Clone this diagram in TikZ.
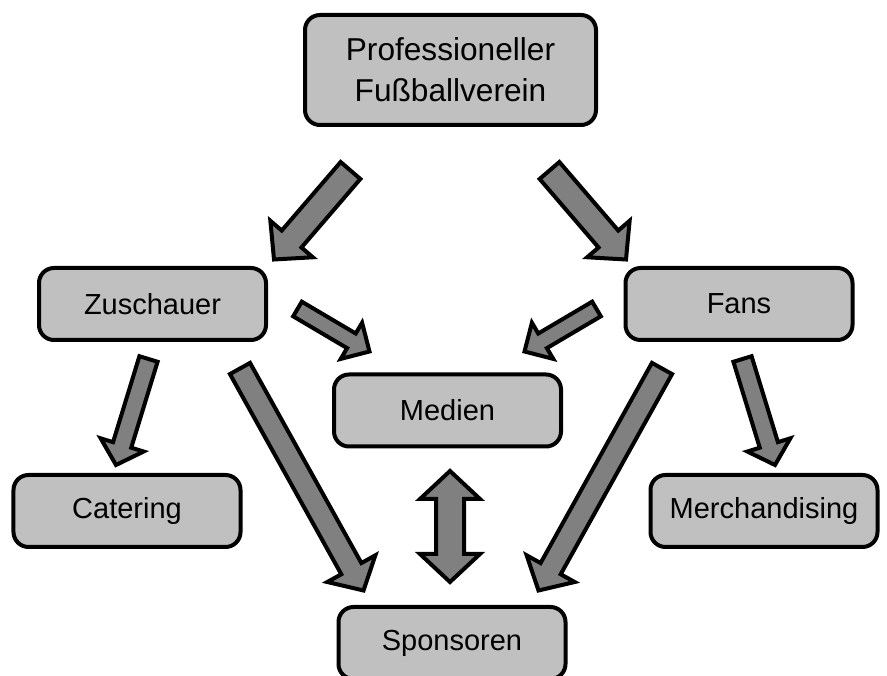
\documentclass[tikz,border=0pt]{standalone}
\usepackage{fontspec}
\setmainfont{Liberation Sans}
\usetikzlibrary{calc}

\definecolor{boxgray}{RGB}{192,192,192}
\definecolor{arrowgray}{RGB}{128,128,128}

% fat block arrow: from, to, half shaft, half head, head length
\newcommand\fatarrow[5]{%
  \coordinate (fa-base) at ($(#2)!#5!(#1)$);
  \draw[fat] ($(#1)!#3!90:(#2)$) -- ($(fa-base)!#3!90:(#2)$) -- ($(fa-base)!#4!90:(#2)$)
    -- (#2) -- ($(fa-base)!#4!-90:(#2)$) -- ($(fa-base)!#3!-90:(#2)$)
    -- ($(#1)!#3!-90:(#2)$) -- cycle;}
% same with a head at both ends
\newcommand\fatdarrow[5]{%
  \coordinate (fa-basea) at ($(#1)!#5!(#2)$);
  \coordinate (fa-baseb) at ($(#2)!#5!(#1)$);
  \draw[fat] (#1) -- ($(fa-basea)!#4!90:(#2)$) -- ($(fa-basea)!#3!90:(#2)$)
    -- ($(fa-baseb)!#3!90:(#2)$) -- ($(fa-baseb)!#4!90:(#2)$) -- (#2)
    -- ($(fa-baseb)!#4!-90:(#2)$) -- ($(fa-baseb)!#3!-90:(#2)$)
    -- ($(fa-basea)!#3!-90:(#2)$) -- ($(fa-basea)!#4!-90:(#2)$) -- cycle;}

\begin{document}
\begin{tikzpicture}[
  box/.style={draw, line width=0.08cm, fill=boxgray, rounded corners=0.3cm,
              minimum width=4.54cm, minimum height=1.44cm, align=center,
              font=\fontsize{16.5}{23.3}\selectfont},
  fat/.style={draw, line width=0.08cm, fill=arrowgray}
]
\useasboundingbox (0,0) rectangle (17.74,-13.52);

\node[box, minimum width=5.82cm, minimum height=2.2cm, font=\fontsize{18}{23.5}\selectfont]
  (verein) at (9.01,-1.40) {Professioneller\\Fußballverein};
\node[box] (zusch)  at (3.05,-6.08)  {Zuschauer};
\node[box] (fans)   at (14.78,-6.08) {Fans};
\node[box] (medien) at (8.95,-8.21)  {Medien};
\node[box] (cater)  at (2.54,-10.22) {Catering};
\node[box] (merch)  at (15.28,-10.22) {Merchandising};
\node[box] (spons)  at (9.04,-12.86) {Sponsoren};

% arrow ends
\coordinate (vz-a) at (7.01,-3.41);   \coordinate (vz-b) at (5.48,-5.19);
\coordinate (vf-a) at (10.99,-3.41);  \coordinate (vf-b) at (12.52,-5.19);
\coordinate (zm-a) at (5.95,-6.18);   \coordinate (zm-b) at (7.39,-7.03);
\coordinate (fm-a) at (11.93,-6.18);  \coordinate (fm-b) at (10.49,-7.03);
\coordinate (zc-a) at (2.97,-7.18);   \coordinate (zc-b) at (2.32,-9.30);
\coordinate (fc-a) at (14.85,-7.18);  \coordinate (fc-b) at (15.50,-9.30);
\coordinate (zs-a) at (4.80,-7.37);   \coordinate (zs-b) at (7.27,-11.81);
\coordinate (fs-a) at (13.24,-7.37);  \coordinate (fs-b) at (10.77,-11.81);
\coordinate (ms-a) at (9.00,-9.42);   \coordinate (ms-b) at (9.00,-11.64);

\fatarrow{vz-a}{vz-b}{0.26cm}{0.56cm}{0.54cm}
\fatarrow{vf-a}{vf-b}{0.26cm}{0.56cm}{0.54cm}
\fatarrow{zm-a}{zm-b}{0.17cm}{0.42cm}{0.42cm}
\fatarrow{fm-a}{fm-b}{0.17cm}{0.42cm}{0.42cm}
\fatarrow{zc-a}{zc-b}{0.19cm}{0.45cm}{0.42cm}
\fatarrow{fc-a}{fc-b}{0.19cm}{0.45cm}{0.42cm}
\fatarrow{zs-a}{zs-b}{0.23cm}{0.55cm}{0.50cm}
\fatarrow{fs-a}{fs-b}{0.23cm}{0.55cm}{0.50cm}
\fatdarrow{ms-a}{ms-b}{0.28cm}{0.60cm}{0.56cm}
\end{tikzpicture}
\end{document}
